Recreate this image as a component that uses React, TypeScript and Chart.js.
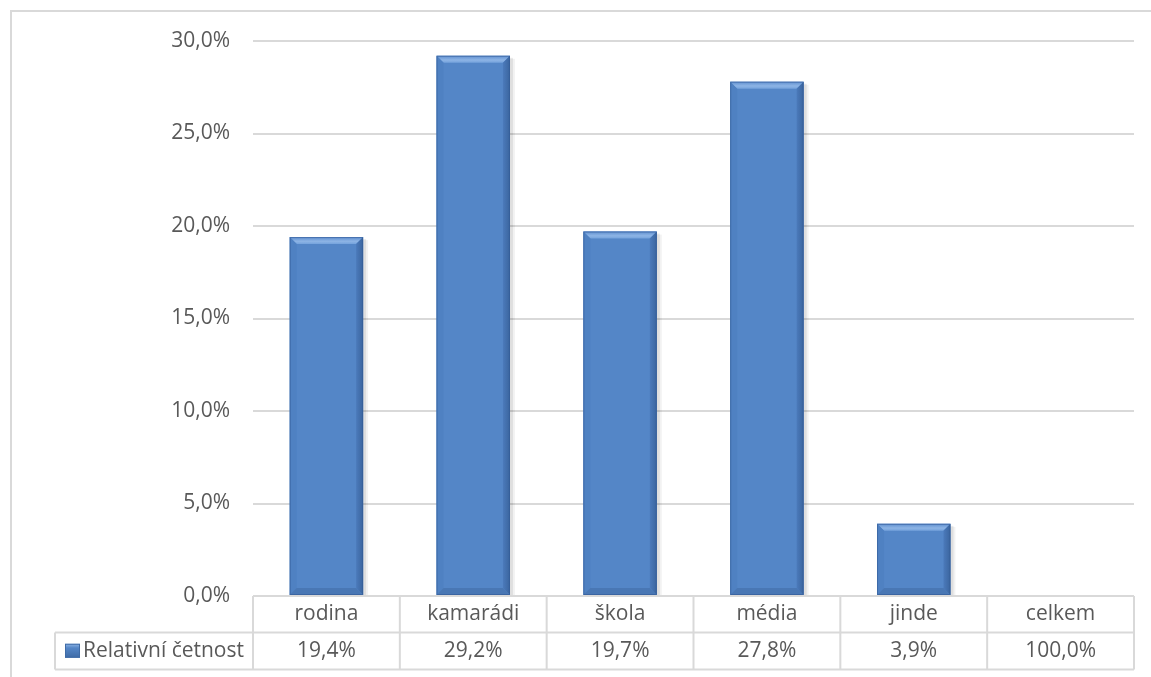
import React, { useEffect, useRef } from "react";
import { Chart, registerables } from "chart.js";

Chart.register(...registerables);

const categories = ["rodina", "kamarádi", "škola", "média", "jinde", "celkem"];
const values = [19.4, 29.2, 19.7, 27.8, 3.9, 100.0];
// "celkem" appears only in the data table, it has no bar in the chart
const plotted = [true, true, true, true, true, false];
const seriesName = "Relativní četnost";
const yMin = 0;
const yMax = 30;
const yStep = 5;

const FONT = "'Open Sans', Lato, sans-serif";
const FONT_SIZE = 21;
const TEXT = "#595959";
const LINE = "#d9d9d9";

const fmt = (v: number) => v.toFixed(1).replace(".", ",") + "%";

const decorPlugin = {
  id: "decor",
  beforeDraw(chart: any) {
    const { ctx, width, height } = chart;
    ctx.save();
    ctx.fillStyle = "#ffffff";
    ctx.fillRect(0, 0, width, height);
    ctx.strokeStyle = LINE;
    ctx.lineWidth = 2;
    ctx.strokeRect(11, 11, width + 20, height + 20);
    ctx.restore();
  },
  beforeDatasetsDraw(chart: any) {
    const { ctx } = chart;
    const meta = chart.getDatasetMeta(0);
    ctx.save();
    meta.data.forEach((el: any, i: number) => {
      if (!plotted[i]) return;
      const p = el.getProps(["x", "y", "base", "width"], true);
      const L = p.x - p.width / 2;
      const T = p.y;
      ctx.fillStyle = "rgba(0,0,0,0.08)";
      ctx.fillRect(L + 2, T + 2, p.width + 1, p.base - T - 2);
      ctx.fillStyle = "rgba(0,0,0,0.05)";
      ctx.fillRect(L + 3, T + 3, p.width + 2, p.base - T - 3);
    });
    ctx.restore();
  },
  afterDatasetsDraw(chart: any) {
    const { ctx } = chart;
    const meta = chart.getDatasetMeta(0);
    ctx.save();
    meta.data.forEach((el: any, i: number) => {
      if (!plotted[i]) return;
      const p = el.getProps(["x", "y", "base", "width"], true);
      const L = p.x - p.width / 2;
      const R = p.x + p.width / 2;
      const T = p.y;
      const B = p.base;
      const b = Math.min(7, (B - T) / 2);
      const poly = (pts: number[][], fill: any) => {
        ctx.beginPath();
        ctx.moveTo(pts[0][0], pts[0][1]);
        for (let k = 1; k < pts.length; k++) ctx.lineTo(pts[k][0], pts[k][1]);
        ctx.closePath();
        ctx.fillStyle = fill;
        ctx.fill();
      };
      const topG = ctx.createLinearGradient(0, T, 0, T + b);
      topG.addColorStop(0, "#5f8fcf");
      topG.addColorStop(0.6, "#8db4e5");
      topG.addColorStop(1, "#74a2dc");
      poly([[L, T], [R, T], [R - b, T + b], [L + b, T + b]], topG);
      poly([[L, T], [L + b, T + b], [L + b, B - b], [L, B]], "#4f81c2");
      const rG = ctx.createLinearGradient(R - b, 0, R, 0);
      rG.addColorStop(0, "#4b7abb");
      rG.addColorStop(1, "#3b659e");
      poly([[R, T], [R, B], [R - b, B - b], [R - b, T + b]], rG);
      poly([[L, B], [R, B], [R - b, B - b], [L + b, B - b]], "#4977b4");
      ctx.strokeStyle = "rgba(50,90,150,0.6)";
      ctx.lineWidth = 1;
      ctx.strokeRect(L + 0.5, T + 0.5, R - L - 1, B - T - 1);
    });
    ctx.restore();
  },
  afterDraw(chart: any) {
    const { ctx, chartArea } = chart;
    const xs = chart.scales.x;
    const n = categories.length;
    const step = xs.getPixelForValue(1) - xs.getPixelForValue(0);
    const left = xs.getPixelForValue(0) - step / 2;
    const right = xs.getPixelForValue(n - 1) + step / 2;
    const top = chartArea.bottom;
    const rowH = 36.5;
    const mid = top + rowH;
    const bottom = mid + rowH + 0.5;
    const legendLeft = 55;

    ctx.save();
    ctx.strokeStyle = LINE;
    ctx.lineWidth = 2;
    ctx.beginPath();
    ctx.moveTo(left, top);
    ctx.lineTo(right, top);
    ctx.moveTo(legendLeft, mid);
    ctx.lineTo(right, mid);
    ctx.moveTo(legendLeft, bottom);
    ctx.lineTo(right, bottom);
    for (let i = 0; i <= n; i++) {
      const x = left + step * i;
      ctx.moveTo(x, top);
      ctx.lineTo(x, bottom);
    }
    ctx.moveTo(legendLeft, mid);
    ctx.lineTo(legendLeft, bottom);
    ctx.stroke();

    ctx.fillStyle = TEXT;
    ctx.font = `${FONT_SIZE}px ${FONT}`;
    ctx.textAlign = "center";
    ctx.textBaseline = "middle";
    for (let i = 0; i < n; i++) {
      const cx = xs.getPixelForValue(i);
      ctx.fillText(categories[i], cx, top + rowH / 2);
      ctx.fillText(fmt(values[i]), cx, mid + rowH / 2);
    }
    const kx = 65;
    const ky = mid + rowH / 2 - 7;
    const kg = ctx.createLinearGradient(kx, ky, kx, ky + 14);
    kg.addColorStop(0, "#8fb6e6");
    kg.addColorStop(0.3, "#5486c7");
    kg.addColorStop(1, "#3f6ba6");
    ctx.fillStyle = kg;
    ctx.fillRect(kx, ky, 15, 14);
    ctx.strokeStyle = "#3f6ba6";
    ctx.lineWidth = 1;
    ctx.strokeRect(kx + 0.5, ky + 0.5, 14, 13);
    ctx.fillStyle = TEXT;
    ctx.textAlign = "left";
    ctx.fillText(seriesName, kx + 18, mid + rowH / 2);
    ctx.restore();
  },
};

export default function App() {
  const ref = useRef<HTMLCanvasElement | null>(null);
  useEffect(() => {
    if (!ref.current) return;
    const chart = new Chart(ref.current, {
      type: "bar",
      data: {
        labels: categories,
        datasets: [
          {
            label: seriesName,
            data: values.map((v, i) => (plotted[i] ? v : null)),
            backgroundColor: "#5486c7",
            borderWidth: 0,
            barPercentage: 0.5,
            categoryPercentage: 1.0,
          },
        ],
      },
      options: {
        animation: false,
        responsive: false,
        layout: { padding: { top: 41, left: 0, right: 17, bottom: 81 } },
        plugins: { legend: { display: false }, tooltip: { enabled: false } },
        scales: {
          x: { display: false },
          y: {
            min: yMin,
            max: yMax,
            afterFit: (scale: any) => {
              scale.width = 253;
            },
            border: { display: false },
            grid: { color: LINE, lineWidth: 2, drawTicks: false },
            ticks: {
              stepSize: yStep,
              padding: 23,
              color: TEXT,
              font: { family: FONT, size: FONT_SIZE },
              callback: (v: any) => fmt(Number(v)),
            },
          },
        },
      },
      plugins: [decorPlugin],
    });
    return () => chart.destroy();
  }, []);
  return (
    <div style={{ position: "absolute", left: 0, top: 0, width: 1151, height: 677 }}>
      <canvas ref={ref} width={1151} height={677} />
    </div>
  );
}
